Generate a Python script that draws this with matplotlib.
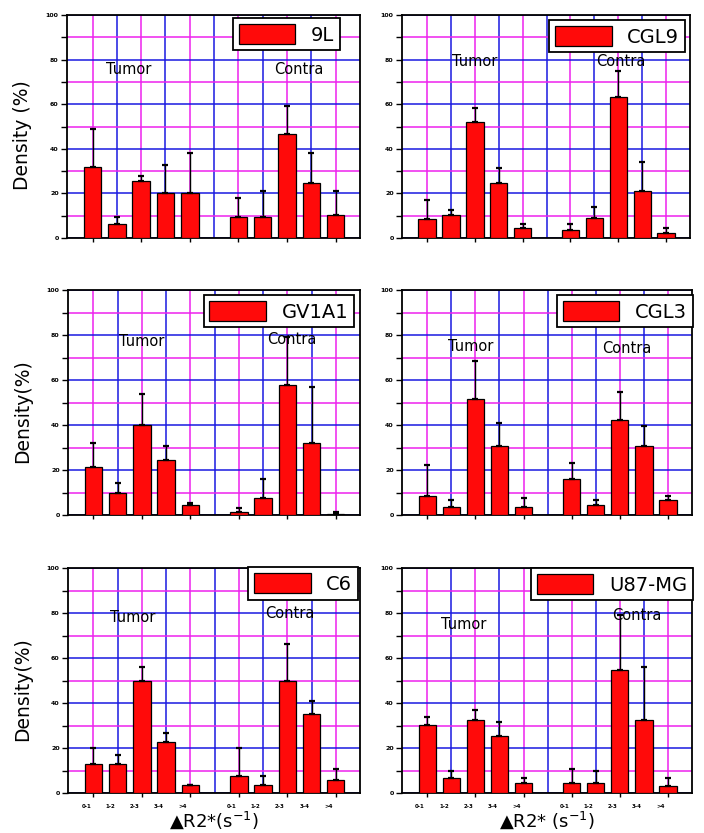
import matplotlib
matplotlib.use('Agg')
import matplotlib.pyplot as plt
from matplotlib.patches import Patch
import numpy as np

plt.rcParams['font.family'] = ['DejaVu Sans']

# ---------------- data ----------------
cell_lines = ['9L', 'CGL9', 'GV1A1', 'CGL3', 'C6', 'U87-MG']
group_names = ['Tumor', 'Contra']
y_ticks = [0, 20, 40, 60, 80, 100]
y_minor = [10, 30, 50, 70, 90]
bin_labels = ['0-1', '1-2', '2-3', '3-4', '>4']

tumor_9L = [31.8, 6.3, 25.4, 20.1, 20.1]
tumor_9L_err = [17.0, 3.1, 2.2, 12.7, 17.9]
contra_9L = [9.4, 9.4, 46.6, 24.6, 10.4]
contra_9L_err = [8.5, 11.5, 12.7, 13.4, 10.5]

tumor_CGL9 = [8.5, 10.4, 51.8, 24.6, 4.3]
tumor_CGL9_err = [8.4, 2.3, 6.4, 7.0, 2.1]
contra_CGL9 = [3.4, 8.8, 63.4, 21.2, 2.2]
contra_CGL9_err = [3.0, 5.1, 11.5, 12.7, 2.1]

tumor_GV1A1 = [21.2, 9.6, 40.0, 24.4, 4.4]
tumor_GV1A1_err = [10.7, 4.5, 13.8, 6.3, 1.1]
contra_GV1A1 = [1.2, 7.7, 57.8, 31.9, 0.3]
contra_GV1A1_err = [2.1, 8.3, 21.2, 25.1, 0.9]

tumor_CGL3 = [8.6, 3.4, 51.6, 30.7, 3.4]
tumor_CGL3_err = [13.6, 3.3, 17.0, 10.3, 4.0]
contra_CGL3 = [16.0, 4.4, 42.2, 30.7, 6.7]
contra_CGL3_err = [7.3, 2.3, 12.6, 8.9, 1.7]

tumor_C6 = [12.9, 12.9, 49.6, 22.5, 3.4]
tumor_C6_err = [7.1, 4.1, 6.4, 4.2, 0.0]
contra_C6 = [7.7, 3.4, 49.6, 35.1, 5.6]
contra_C6_err = [12.3, 4.3, 16.6, 5.9, 5.1]

tumor_U87 = [30.4, 6.7, 32.6, 25.5, 4.4]
tumor_U87_err = [3.4, 2.9, 4.4, 6.1, 2.3]
contra_U87 = [4.4, 4.4, 54.8, 32.6, 3.3]
contra_U87_err = [6.3, 5.5, 24.2, 23.3, 3.4]

tumor_means = [tumor_9L, tumor_CGL9, tumor_GV1A1, tumor_CGL3, tumor_C6, tumor_U87]
tumor_errs = [tumor_9L_err, tumor_CGL9_err, tumor_GV1A1_err, tumor_CGL3_err, tumor_C6_err, tumor_U87_err]
contra_means = [contra_9L, contra_CGL9, contra_GV1A1, contra_CGL3, contra_C6, contra_U87]
contra_errs = [contra_9L_err, contra_CGL9_err, contra_GV1A1_err, contra_CGL3_err, contra_C6_err, contra_U87_err]

# ---------------- layout ----------------
W, H = 704, 833
rects = [(67, 15, 360, 238), (402, 15, 690, 238),
         (68, 290, 360, 515), (402, 290, 692, 515),
         (68, 568, 360, 793), (402, 568, 692, 793)]
legend_anchor = [(0.932, 0.987), (0.983, 0.978), (0.979, 0.978),
                 (1.003, 0.978), (0.993, 1.004), (1.003, 1.0)]
tumor_text_pos = [(1.5, 75.4), (2.0, 79), (2.0, 77), (1.8, 75), (1.6, 78), (1.5, 75)]
contra_text_pos = [(8.5, 75.4), (8.1, 79), (8.2, 78), (8.3, 74), (8.1, 80), (8.7, 79)]
ylabels = ['Density (%)', None, 'Density(%)', None, 'Density(%)', None]
xlabels = [None, None, None, None, '\u25B2R2*(s$^{-1}$)', '\u25B2R2* (s$^{-1}$)']

BLUE = '#1a1ae0'
MAGENTA = '#ee22ee'
RED = '#ff0a0a'

x_tumor = np.arange(5)
x_contra = np.arange(6, 11)

fig = plt.figure(figsize=(W / 100, H / 100), dpi=100)

for i, name in enumerate(cell_lines):
    l, t, r, b = rects[i]
    ax = fig.add_axes([l / W, 1 - b / H, (r - l) / W, (b - t) / H])
    ax.set_xlim(-1.05, 11.0)
    ax.set_ylim(0, 100)
    ax.set_axisbelow(True)

    # grid
    ax.set_yticks(y_ticks)
    ax.set_yticks(y_minor, minor=True)
    ax.set_xticks(np.arange(0, 11, 2))
    ax.set_xticks(np.arange(1, 11, 2), minor=True)
    ax.yaxis.grid(True, which='major', color=BLUE, linewidth=1.1)
    ax.yaxis.grid(True, which='minor', color=MAGENTA, linewidth=1.1)
    ax.xaxis.grid(True, which='major', color=MAGENTA, linewidth=1.1)
    ax.xaxis.grid(True, which='minor', color=BLUE, linewidth=1.1)

    ax.tick_params(axis='x', which='major', length=3, width=1, direction='out', labelbottom=False)
    ax.tick_params(axis='x', which='minor', length=0)
    ax.tick_params(axis='y', which='both', length=4, width=1, direction='out', labelsize=4.5, pad=2)
    ax.set_yticklabels([str(v) for v in y_ticks], fontweight='bold')
    for sp in ax.spines.values():
        sp.set_linewidth(1.3)
        sp.set_color('black')

    # bars
    tm, te = tumor_means[i], tumor_errs[i]
    cm, ce = contra_means[i], contra_errs[i]
    ax.bar(x_tumor, tm, width=0.72, color=RED, edgecolor='black', linewidth=0.9, zorder=3)
    ax.bar(x_contra, cm, width=0.72, color=RED, edgecolor='black', linewidth=0.9, zorder=3)
    ax.errorbar(x_tumor, tm, yerr=[np.zeros(5), te], fmt='none', ecolor='black',
                elinewidth=1, capsize=2.5, capthick=1.6, zorder=4)
    ax.errorbar(x_contra, cm, yerr=[np.zeros(5), ce], fmt='none', ecolor='black',
                elinewidth=1, capsize=2.5, capthick=1.6, zorder=4)

    # group texts
    ax.text(*tumor_text_pos[i], group_names[0], ha='center', va='center', fontsize=10.5, zorder=5)
    ax.text(*contra_text_pos[i], group_names[1], ha='center', va='center', fontsize=10.5, zorder=5)

    # legend
    leg = ax.legend(handles=[Patch(facecolor=RED, edgecolor='black', linewidth=0.9, label=name)],
                    loc='upper right', bbox_to_anchor=legend_anchor[i], fontsize=14,
                    frameon=True, fancybox=False, framealpha=1, edgecolor='black',
                    handlelength=2.9, handleheight=1.25, borderpad=0.3,
                    handletextpad=0.8, borderaxespad=0)
    leg.get_frame().set_linewidth(1.3)
    leg.set_zorder(6)

    if ylabels[i]:
        ax.set_ylabel(ylabels[i], fontsize=13.5)
        ax.yaxis.set_label_coords(-(l - 32) / (r - l), 0.46)
    if xlabels[i]:
        ax.set_xlabel(xlabels[i], fontsize=13)
        ax.xaxis.set_label_coords(0.5, -0.075)
        for xs in (x_tumor, x_contra):
            for xv, lab in zip(xs, bin_labels):
                ax.text(xv - 0.3, -6.2, lab, ha='center', va='center', fontsize=4,
                        fontweight='bold', clip_on=False)

fig.savefig('out.png', dpi=100)
